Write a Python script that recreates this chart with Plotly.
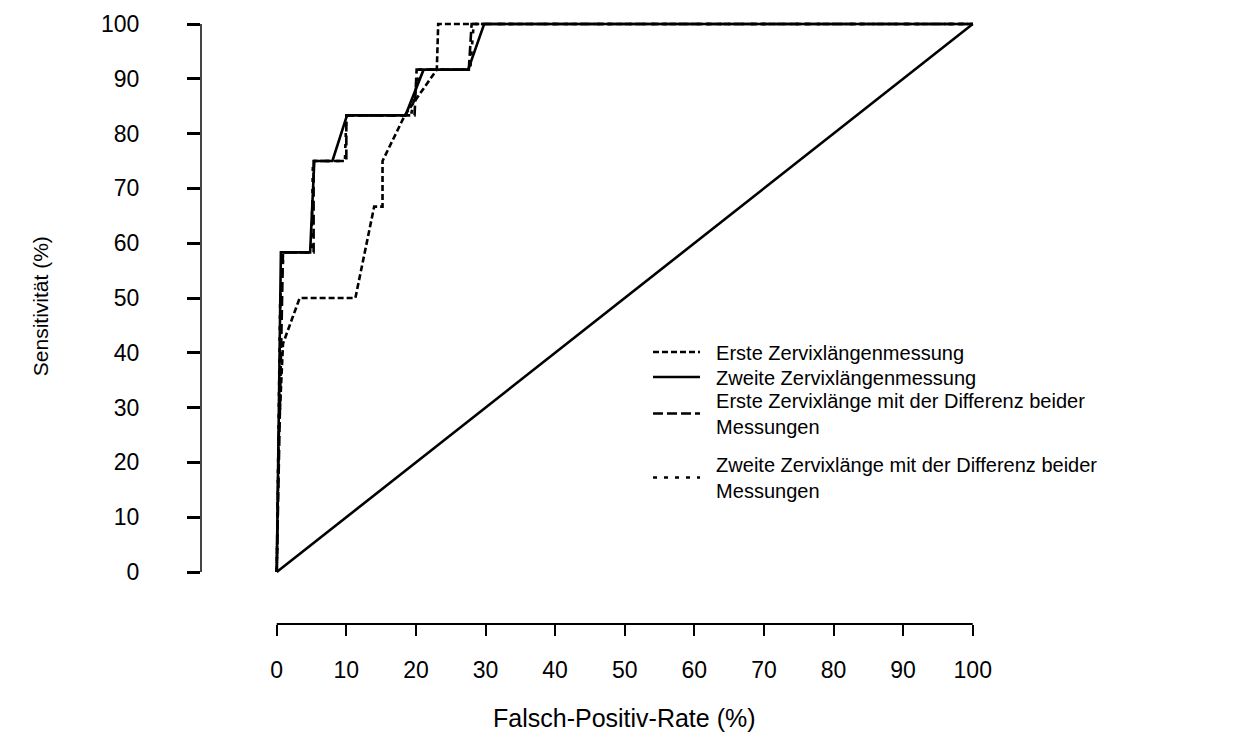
import plotly.graph_objects as go

# ROC curves: false-positive rate (%) vs. sensitivity (%)
fpr_erste = [0, 0.3, 0.9, 3.3, 11.3, 14.0, 15.2, 15.2, 18.4, 23.0, 23.2, 100]
sens_erste = [0, 25.0, 41.67, 50.0, 50.0, 66.67, 66.67, 75.0, 83.33, 91.67, 100, 100]

fpr_zweite = [0, 0.6, 4.8, 5.4, 8.0, 10.1, 18.5, 21.1, 27.5, 29.8, 100]
sens_zweite = [0, 58.33, 58.33, 75.0, 75.0, 83.33, 83.33, 91.67, 91.67, 100, 100]

fpr_erste_diff = [0, 0.4, 0.9, 5.3, 5.3, 10.0, 10.0, 19.8, 20.1, 27.6, 28.0, 100]
sens_erste_diff = [0, 25.0, 58.33, 58.33, 75.0, 75.0, 83.33, 83.33, 91.67, 91.67, 100, 100]

fpr_zweite_diff = [0, 0.2, 0.5, 1.0, 5.0, 5.2, 9.8, 10.0, 19.3, 20.5, 27.8, 28.3, 100]
sens_zweite_diff = [0, 20.0, 50.0, 58.33, 58.33, 75.0, 75.0, 83.33, 83.33, 91.67, 91.67, 100, 100]

diag_x = [0, 100]
diag_y = [0, 100]

tick_vals = [0, 10, 20, 30, 40, 50, 60, 70, 80, 90, 100]

PAD = "\u00a0\u00a0"
names = [
    PAD + "Erste Zervixlängenmessung",
    PAD + "Zweite Zervixlängenmessung",
    PAD + "Erste Zervixlänge mit der Differenz beider<br>" + PAD + "Messungen",
    PAD + "Zweite Zervixlänge mit der Differenz beider<br>" + PAD + "Messungen",
]

FONT = "Liberation Sans, Arial, sans-serif"
INK = "#000000"
TICK_FS = 23
LEG_FS = 20
LW = 2.6

fig = go.Figure()

series = [
    (fpr_erste, sens_erste, names[0], "6px,3px", "legend"),
    (fpr_zweite, sens_zweite, names[1], "solid", "legend2"),
    (fpr_erste_diff, sens_erste_diff, names[2], "10px,4px", "legend3"),
    (fpr_zweite_diff, sens_zweite_diff, names[3], "4px,7px", "legend4"),
]
for xs, ys, name, dash, lg in series:
    fig.add_trace(go.Scatter(
        x=xs, y=ys, name=name, mode="lines", legend=lg,
        line=dict(color=INK, width=LW, dash=dash),
    ))

# chance line
fig.add_trace(go.Scatter(
    x=diag_x, y=diag_y, mode="lines", showlegend=False,
    line=dict(color=INK, width=LW),
))

# detached axis lines spanning 0..100 only
fig.add_shape(type="line", xref="paper", yref="y", x0=0, x1=0, y0=0, y1=100,
              line=dict(color="#444444", width=2))
fig.add_shape(type="line", xref="x", yref="paper", x0=0, x1=100, y0=0, y1=0,
              line=dict(color=INK, width=2))

fig.add_annotation(text="Sensitivität (%)", textangle=-90, showarrow=False,
                   xref="paper", yref="y", x=0, y=48.5, xanchor="center",
                   xshift=-161, font=dict(family=FONT, size=21, color=INK))
fig.add_annotation(text="Falsch-Positiv-Rate (%)", showarrow=False,
                   xref="x", yref="paper", x=50, y=0, yanchor="middle",
                   yshift=-94, font=dict(family=FONT, size=25, color=INK))

legend_style = dict(
    x=(648 - 201) / 778, xanchor="left", yanchor="middle",
    bgcolor="rgba(0,0,0,0)", font=dict(family=FONT, size=LEG_FS, color=INK),
    itemwidth=47,
)

fig.update_layout(
    width=1234, height=733,
    margin=dict(l=201, r=255, t=20, b=109, pad=0),
    paper_bgcolor="white", plot_bgcolor="white",
    font=dict(family=FONT, size=TICK_FS, color=INK),
    showlegend=True,
    legend=dict(y=0.4503, **legend_style),
    legend2=dict(y=0.4089, **legend_style),
    legend3=dict(y=0.3485, **legend_style),
    legend4=dict(y=0.2425, **legend_style),
    xaxis=dict(
        range=[-10.88, 100.9], tickvals=tick_vals, ticktext=[str(v) for v in tick_vals],
        showgrid=False, zeroline=False, showline=False,
        ticks="outside", ticklen=11, tickwidth=2, tickcolor=INK,
        ticklabelstandoff=14,
    ),
    yaxis=dict(
        range=[-9.49, 100.73], tickvals=tick_vals, ticktext=[str(v) for v in tick_vals],
        showgrid=False, zeroline=False, showline=False,
        ticks="outside", ticklen=13, tickwidth=3, tickcolor=INK,
        ticklabelstandoff=43,
    ),
)

fig.write_html("out.html")
